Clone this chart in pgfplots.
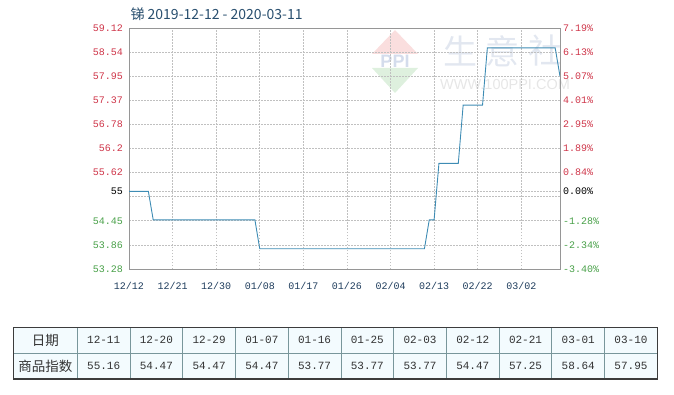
\documentclass[border=0pt]{standalone}
\usepackage{pgfplots}
\pgfplotsset{compat=1.18}
\usepackage{fontspec}
\setmainfont{Liberation Sans}
\newfontfamily\cjk{Noto Sans CJK SC}
\newfontfamily\mono{Liberation Mono}
\definecolor{upred}{RGB}{206,52,72}
\definecolor{dngreen}{RGB}{72,160,72}
\definecolor{xlab}{RGB}{30,60,92}
\definecolor{ttl}{RGB}{40,78,110}
\definecolor{lineblue}{RGB}{62,140,180}
\definecolor{gridc}{RGB}{192,192,192}
\definecolor{axc}{RGB}{150,150,150}
\definecolor{cellbg}{RGB}{243,251,254}
\definecolor{innerl}{RGB}{120,150,155}
\begin{document}
\begin{tikzpicture}[x=1pt,y=1pt]
\useasboundingbox (0pt,0pt) rectangle (674pt,394pt);
% watermark
\fill[fill={rgb,255:red,250;green,222;blue,222}] (395,364) -- (418,340) -- (372,340) -- cycle;
\fill[fill={rgb,255:red,222;green,240;blue,222}] (395,301) -- (418,326) -- (372,326) -- cycle;
\node[text={rgb,255:red,212;green,220;blue,236}, font=\fontsize{18}{18}\selectfont\bfseries] at (395,333) {PPI};
\node[text={rgb,255:red,226;green,231;blue,240}, font=\cjk\fontsize{34}{34}\selectfont] at (460,343) {生};
\node[text={rgb,255:red,226;green,231;blue,240}, font=\cjk\fontsize{34}{34}\selectfont] at (502,343) {意};
\node[text={rgb,255:red,226;green,231;blue,240}, font=\cjk\fontsize{34}{34}\selectfont] at (545,343) {社};
\node[text={rgb,255:red,230;green,230;blue,230}, font=\fontsize{14.5}{14.5}\selectfont] at (505,309) {WWW.100PPI.COM};
% title
\node[anchor=west, text=ttl, font=\cjk\fontsize{14}{14}\selectfont] at (127,380) {锑 2019-12-12 - 2020-03-11};
% left axis
\begin{axis}[
  at={(129pt,125pt)}, anchor=south west, scale only axis,
  width=431pt, height=241pt,
  xmin=0, xmax=89, ymin=53.28, ymax=59.12,
  xtick={0,9,18,27,36,45,54,63,72,81},
  xticklabels={12/12,12/21,12/30,01/08,01/17,01/26,02/04,02/13,02/22,03/02},
  ytick={53.28,53.864,54.448,55.032,55.616,56.2,56.784,57.368,57.952,58.536,59.12},
  yticklabels={\textcolor{dngreen}{53.28},\textcolor{dngreen}{53.86},\textcolor{dngreen}{54.45},{},\textcolor{upred}{55.62},\textcolor{upred}{56.2},\textcolor{upred}{56.78},\textcolor{upred}{57.37},\textcolor{upred}{57.95},\textcolor{upred}{58.54},\textcolor{upred}{59.12}},
  extra y ticks={55.16},
  extra y tick labels={55},
  extra y tick style={grid style={solid, draw=axc, line width=0.8pt}, yticklabel style={text=black}},
  grid=major,
  major grid style={dashed, dash pattern=on 1.5pt off 1.5pt, draw=gridc, line width=0.6pt},
  major tick length=0pt,
  axis line style={draw=axc, line width=0.8pt},
  xticklabel style={font=\mono\fontsize{10}{10}\selectfont, text=xlab, anchor=base, yshift=-20.5pt, inner sep=0pt},
  yticklabel style={font=\mono\fontsize{10}{10}\selectfont, anchor=east, inner sep=0pt, xshift=-6pt},
  clip=false,
]
\addplot[lineblue, line width=0.9pt] coordinates {
(0,55.16) (4,55.16) (5,54.47) (26,54.47) (27,53.77) (61,53.77) (62,54.47) (63,54.47)
(64,55.84) (68,55.84) (69,57.25) (73,57.25) (74,58.64) (88,58.64) (89,57.95)};
\end{axis}
% right axis
\begin{axis}[
  at={(129pt,125pt)}, anchor=south west, scale only axis,
  width=431pt, height=241pt,
  xmin=0, xmax=89, ymin=53.28, ymax=59.12,
  axis x line=none, axis y line*=right,
  ytick={53.28,53.864,54.448,55.616,56.2,56.784,57.368,57.952,58.536,59.12},
  yticklabels={\textcolor{dngreen}{-3.40\%},\textcolor{dngreen}{-2.34\%},\textcolor{dngreen}{-1.28\%},\textcolor{upred}{0.84\%},\textcolor{upred}{1.89\%},\textcolor{upred}{2.95\%},\textcolor{upred}{4.01\%},\textcolor{upred}{5.07\%},\textcolor{upred}{6.13\%},\textcolor{upred}{7.19\%}},
  extra y ticks={55.16},
  extra y tick labels={0.00\%},
  extra y tick style={yticklabel style={text=black}},
  major tick length=0pt,
  axis line style={draw=axc, line width=0.8pt},
  yticklabel style={font=\mono\fontsize{10}{10}\selectfont, anchor=west, inner sep=0pt, xshift=3pt},
]
\addplot[draw=none] coordinates {(0,55)};
\end{axis}
% top border
\draw[axc, line width=0.8pt] (129pt,366pt) -- (560pt,366pt);
% table
\fill[cellbg] (13.3,15) rectangle (657.3,66.7);
\foreach \i in {1,...,10} \draw[innerl, line width=0.8pt] ({77.3+52.73*\i},15) -- ({77.3+52.73*\i},66.7);
\draw[innerl, line width=0.8pt] (77.3,15) -- (77.3,66.7);
\draw[innerl, line width=0.8pt] (13.3,41) -- (657.3,41);
\draw[draw={rgb,255:red,60;green,60;blue,60}, line width=1.1pt] (13.3,15) rectangle (657.3,66.7);
\node[font=\cjk\fontsize{13.5}{13.5}\selectfont, text={rgb,255:red,50;green,50;blue,50}] at (45.3,53.85) {日期};
\node[font=\cjk\fontsize{13.5}{13.5}\selectfont, text={rgb,255:red,50;green,50;blue,50}] at (45.3,28) {商品指数};
\foreach \d [count=\i from 0] in {12-11,12-20,12-29,01-07,01-16,01-25,02-03,02-12,02-21,03-01,03-10}
  \node[font=\mono\fontsize{11}{11}\selectfont, text={rgb,255:red,50;green,50;blue,50}] at ({77.3+52.73*(\i+0.5)},53.85) {\d};
\foreach \d [count=\i from 0] in {55.16,54.47,54.47,54.47,53.77,53.77,53.77,54.47,57.25,58.64,57.95}
  \node[font=\mono\fontsize{11}{11}\selectfont, text={rgb,255:red,50;green,50;blue,50}] at ({77.3+52.73*(\i+0.5)},28) {\d};
\end{tikzpicture}
\end{document}
